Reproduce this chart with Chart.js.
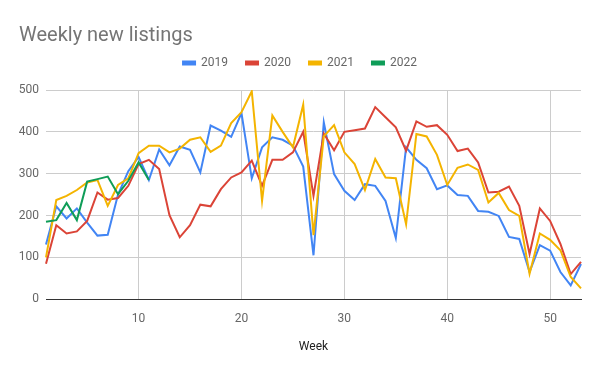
<!DOCTYPE html>
<html>
<head>
<meta charset="utf-8">
<script src="https://cdn.jsdelivr.net/npm/chart.js@4"></script>
<style>
  html, body { margin: 0; padding: 0; background: #fff; }
  #wrap { width: 600px; height: 371px; }
</style>
</head>
<body>
<div id="wrap"><canvas id="c" width="600" height="371"></canvas></div>
<script>
const weeks = Array.from({length: 53}, (_, i) => i + 1);
const xTickLabels = [10, 20, 30, 40, 50];
const yTickLabels = [0, 100, 200, 300, 400, 500];

const s2019 = [131, 222, 193, 217, 183, 152, 154, 250, 306, 340, 285, 358, 320, 365, 357,
  303, 415, 403, 388, 445, 289, 363, 387, 381, 367, 317, 105, 423, 299, 259,
  237, 275, 271, 235, 146, 363, 333, 313, 263, 272, 249, 247, 211, 209, 199,
  149, 144, 65, 129, 116, 65, 33, 84];
const s2020 = [85, 177, 157, 162, 187, 255, 238, 242, 271, 323, 333, 311, 201, 148, 177,
  226, 222, 263, 291, 303, 331, 271, 333, 333, 351, 400, 247, 396, 356, 400,
  404, 408, 459, 435, 411, 355, 425, 412, 416, 393, 354, 360, 327, 255, 257,
  269, 223, 108, 217, 187, 132, 60, 89];
const s2021 = [100, 237, 247, 261, 279, 285, 223, 273, 289, 349, 367, 367, 351, 360, 381,
  387, 352, 367, 421, 447, 497, 235, 439, 400, 363, 465, 153, 389, 416, 351,
  323, 261, 335, 291, 289, 179, 395, 389, 345, 273, 314, 322, 309, 231, 254,
  213, 199, 61, 157, 142, 117, 53, 26];
const s2022 = [185, 189, 230, 189, 281, 287, 293, 251, 283, 327, 285];

const seriesNames = ['2019', '2020', '2021', '2022'];
const seriesData = [s2019, s2020, s2021, s2022];
const seriesColors = ['#4285F4', '#DB4437', '#F4B400', '#0F9D58'];

const datasets = seriesNames.map((name, i) => ({
  label: name,
  data: seriesData[i],
  borderColor: seriesColors[i],
  backgroundColor: seriesColors[i],
  borderWidth: 2,
  pointRadius: 0,
  pointHoverRadius: 0,
  tension: 0,
  fill: false,
  order: seriesNames.length - i
}));

// Give the legend box extra room below its items so the plot starts lower.
const legendSpacer = {
  id: 'legendSpacer',
  afterInit(chart) {
    const lg = chart.legend;
    if (!lg) return;
    const origFit = lg.fit.bind(lg);
    lg.fit = function () {
      origFit();
      this.height += 11;
    };
  }
};

new Chart(document.getElementById('c'), {
  type: 'line',
  data: { labels: weeks, datasets },
  plugins: [legendSpacer],
  options: {
    responsive: false,
    animation: false,
    devicePixelRatio: 1,
    layout: { padding: { left: 19, right: 19, top: 0, bottom: 13 } },
    plugins: {
      title: {
        display: true,
        text: 'Weekly new listings',
        align: 'start',
        color: '#757575',
        font: { family: 'Roboto', size: 20, weight: 'normal' },
        padding: { top: 24, bottom: -9 }
      },
      legend: {
        display: true,
        position: 'top',
        labels: {
          boxWidth: 12,
          boxHeight: 3,
          padding: 18,
          color: '#666',
          font: { family: 'Roboto', size: 12 },
          sort: (a, b) => a.datasetIndex - b.datasetIndex
        }
      },
      tooltip: { enabled: false }
    },
    scales: {
      x: {
        type: 'category',
        offset: false,
        grid: {
          drawTicks: false,
          color: ctx => (ctx.tick && xTickLabels.includes(weeks[ctx.index])) ? '#cccccc' : 'rgba(0,0,0,0)',
          lineWidth: 1
        },
        border: { display: true, color: '#333333', width: 1 },
        ticks: {
          autoSkip: false,
          maxRotation: 0,
          padding: 13,
          color: '#666',
          font: { family: 'Roboto', size: 12 },
          callback: function (value, index) {
            const w = weeks[index];
            return xTickLabels.includes(w) ? String(w) : '';
          }
        },
        title: {
          display: true,
          text: 'Week',
          color: '#222',
          font: { family: 'Roboto', size: 12 },
          padding: { top: 0, bottom: 4 }
        }
      },
      y: {
        min: 0,
        max: 500,
        afterBuildTicks: axis => { axis.ticks = yTickLabels.map(v => ({ value: v })); },
        afterFit: axis => { axis.width = 27; },
        grid: { drawTicks: false, color: '#cccccc', lineWidth: 1 },
        border: { display: false },
        ticks: {
          padding: 7,
          color: '#666',
          font: { family: 'Roboto', size: 12 }
        }
      }
    }
  }
});
</script>
</body>
</html>
